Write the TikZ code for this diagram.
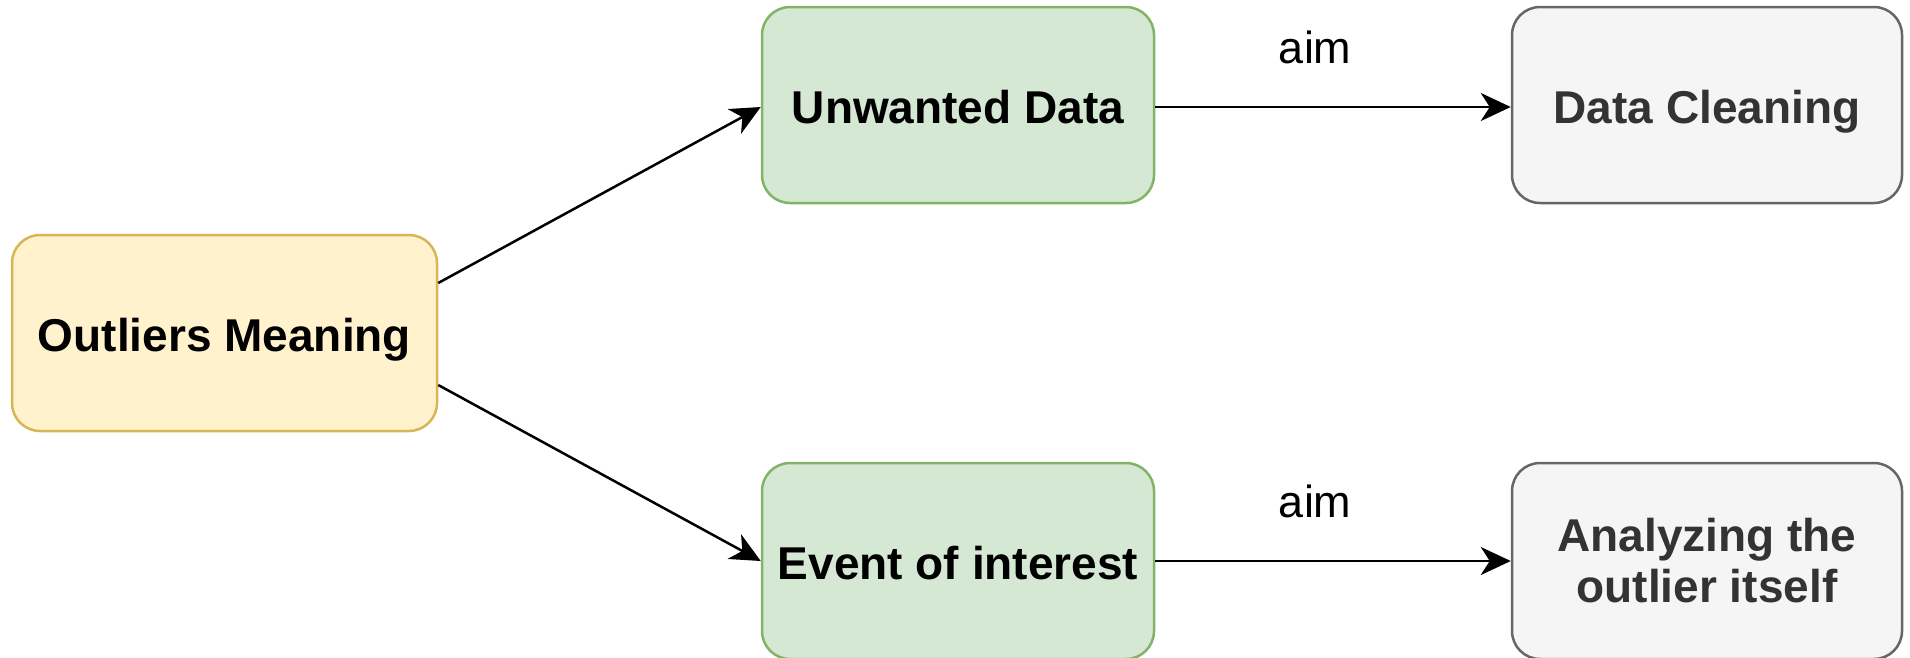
\documentclass[tikz,border=0pt]{standalone}
\usepackage{fontspec}
\setmainfont{Liberation Sans}
\usetikzlibrary{arrows.meta}
\definecolor{yfill}{HTML}{FFF2CC}
\definecolor{ydraw}{HTML}{D6B656}
\definecolor{gfill}{HTML}{D5E8D4}
\definecolor{gdraw}{HTML}{82B366}
\definecolor{sfill}{HTML}{F5F5F5}
\definecolor{sdraw}{HTML}{666666}
\definecolor{stext}{HTML}{333333}
\begin{document}
\begin{tikzpicture}[x=1pt,y=-1pt,
  box/.style={rounded corners=28pt, line width=2.5pt, minimum height=196pt,
    inner sep=0pt, align=center, font=\fontsize{46}{51}\selectfont\bfseries},
  oneline/.style={text height=40pt, text depth=3pt},
  yellowbox/.style={box, fill=yfill, draw=ydraw, minimum width=425pt},
  greenbox/.style={box, fill=gfill, draw=gdraw, minimum width=392pt},
  greybox/.style={box, fill=sfill, draw=sdraw, text=stext, minimum width=390pt},
  conn/.style={line width=2.5pt, -{Stealth[length=30pt,width=28pt,inset=9pt]}},
  lbl/.style={font=\fontsize{45}{51}\selectfont, text=black}]
\useasboundingbox (0,0) rectangle (1910,657);
\node[yellowbox, oneline] (O) at (224.5,333) {Outliers Meaning};
\node[greenbox, oneline] (U) at (958,105) {Unwanted Data};
\node[greenbox, oneline] (E) at (958,561) {Event of interest};
\node[greybox, oneline] (C) at (1707,105) {Data Cleaning};
\node[greybox] (A) at (1707,561) {Analyzing the\\outlier itself};
\draw[conn] ([yshift=50pt]O.east) -- ([yshift=-2pt]U.west);
\draw[conn] ([yshift=-52pt]O.east) -- (E.west);
\draw[conn] ([yshift=-2pt]U.east) -- ([yshift=-2pt]C.west) node[lbl, pos=0.45, yshift=60pt] (l1) {aim};
\draw[conn] (E.east) -- (A.west) node[lbl, pos=0.45, yshift=60pt] (l2) {aim};
\end{tikzpicture}
\end{document}
